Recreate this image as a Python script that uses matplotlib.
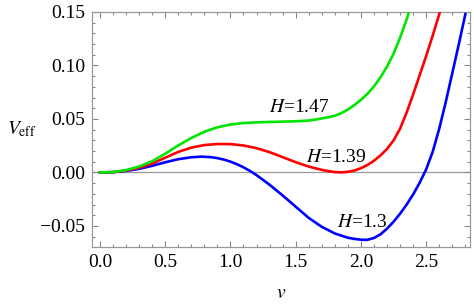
import numpy as np
import matplotlib
matplotlib.use("Agg")
import matplotlib.pyplot as plt
from matplotlib.ticker import MultipleLocator, FormatStrFormatter, FuncFormatter

plt.rcParams['font.family'] = ['Liberation Serif', 'DejaVu Serif']
plt.rcParams['mathtext.fontset'] = 'stix'

# values
y_blue = [0.0, 0.1, 0.2, 0.3, 0.4, 0.5, 0.6, 0.7, 0.78, 0.85, 0.9, 0.95, 1.0, 1.05, 1.1,
          1.15, 1.2, 1.3, 1.4, 1.5, 1.6, 1.7, 1.8, 1.9, 1.95, 2.0, 2.03, 2.05, 2.1, 2.15,
          2.2, 2.25, 2.3, 2.35, 2.4, 2.45, 2.5, 2.55, 2.6, 2.65, 2.7, 2.75, 2.8]
v_blue = [0.0, 0.0003, 0.0014, 0.0034, 0.0062, 0.0095, 0.0124, 0.0142, 0.0148, 0.0143,
          0.0134, 0.0120, 0.0101, 0.0077, 0.0048, 0.0014, -0.0025, -0.0115, -0.0215,
          -0.032, -0.0425, -0.0508, -0.0570, -0.0610, -0.0621, -0.0628, -0.063, -0.0629,
          -0.0612, -0.0578, -0.0525, -0.046, -0.0385, -0.030, -0.0205, -0.0095, 0.003,
          0.0195, 0.041, 0.066, 0.093, 0.12, 0.148]

y_red = [0.0, 0.1, 0.2, 0.3, 0.4, 0.5, 0.6, 0.7, 0.8, 0.9, 1.0, 1.1, 1.2, 1.3, 1.4, 1.5,
         1.6, 1.7, 1.75, 1.8, 1.85, 1.9, 1.95, 2.0, 2.05, 2.1, 2.15, 2.2, 2.25, 2.3, 2.35,
         2.4, 2.45, 2.5, 2.55, 2.6, 2.62]
v_red = [0.0, 0.0003, 0.0018, 0.0044, 0.0083, 0.0138, 0.0192, 0.0232, 0.0256, 0.0266,
         0.0265, 0.0252, 0.0227, 0.019, 0.0143, 0.0096, 0.0055, 0.0024, 0.0012, 0.0004,
         0.0001, 0.0006, 0.0018, 0.0040, 0.007, 0.011, 0.016, 0.022, 0.030, 0.041, 0.056,
         0.073, 0.091, 0.109, 0.128, 0.148, 0.157]

y_green = [0.0, 0.1, 0.2, 0.3, 0.4, 0.5, 0.6, 0.7, 0.8, 0.9, 1.0, 1.1, 1.2, 1.3, 1.4, 1.5,
           1.6, 1.65, 1.7, 1.75, 1.8, 1.85, 1.9, 1.95, 2.0, 2.05, 2.1, 2.15, 2.2, 2.25,
           2.3, 2.35, 2.4]
v_green = [0.0, 0.0004, 0.0022, 0.0055, 0.0105, 0.0175, 0.0252, 0.0322, 0.038, 0.0422,
           0.0448, 0.0462, 0.0468, 0.0472, 0.0475, 0.0478, 0.0485, 0.0494, 0.0505, 0.0516,
           0.053, 0.0555, 0.0588, 0.063, 0.0678, 0.0735, 0.0805, 0.089, 0.099, 0.111,
           0.126, 0.143, 0.162]

labels = ["H=1.3", "H=1.39", "H=1.47"]
label_pos = [(2.01, -0.0465), (1.81, 0.0143), (1.53, 0.061)]

fig = plt.figure(figsize=(4.74, 3.06), dpi=100)
ax = fig.add_axes([0.194, 0.193, 0.798, 0.768])

ax.axhline(0, color='#999999', lw=0.9, zorder=1)
ax.plot(y_blue, v_blue, color=(0, 0, 1), lw=1.9, zorder=3)
ax.plot(y_red, v_red, color=(1, 0, 0), lw=1.9, zorder=3)
ax.plot(y_green, v_green, color=(0, 0.9, 0), lw=1.9, zorder=3)

for lab, (x, y) in zip(labels, label_pos):
    h, val = lab.split("=")
    ax.text(x, y, "$\\mathit{H}$=" + val, ha='center', va='center', fontsize=14)

ax.set_xlim(-0.061, 2.837)
ax.set_ylim(-0.0696, 0.15)
ax.xaxis.set_major_locator(MultipleLocator(0.5))
ax.xaxis.set_minor_locator(MultipleLocator(0.1))
ax.yaxis.set_major_locator(MultipleLocator(0.05))
ax.yaxis.set_minor_locator(MultipleLocator(0.01))
ax.xaxis.set_major_formatter(FormatStrFormatter('%.1f'))
ax.yaxis.set_major_formatter(FuncFormatter(
    lambda v, p: ("\u2212" + "%.2f" % abs(v)) if v < -1e-9 else "%.2f" % abs(v)))

ax.tick_params(which='both', direction='in', top=True, right=True, color='#888888',
               labelsize=14, width=0.8)
ax.tick_params(which='major', length=4.5, pad=5)
ax.tick_params(which='minor', length=2.5)
for s in ax.spines.values():
    s.set_color('#999999')
    s.set_linewidth(0.9)

ax.set_xlabel("$\\mathit{v}$", fontsize=14, labelpad=10)
ax.set_ylabel("$V_{\\mathrm{eff}}$", fontsize=14, rotation=0, ha='center', va='center')
ax.yaxis.set_label_coords(-0.185, 0.5)

fig.savefig("out.png", dpi=100)
